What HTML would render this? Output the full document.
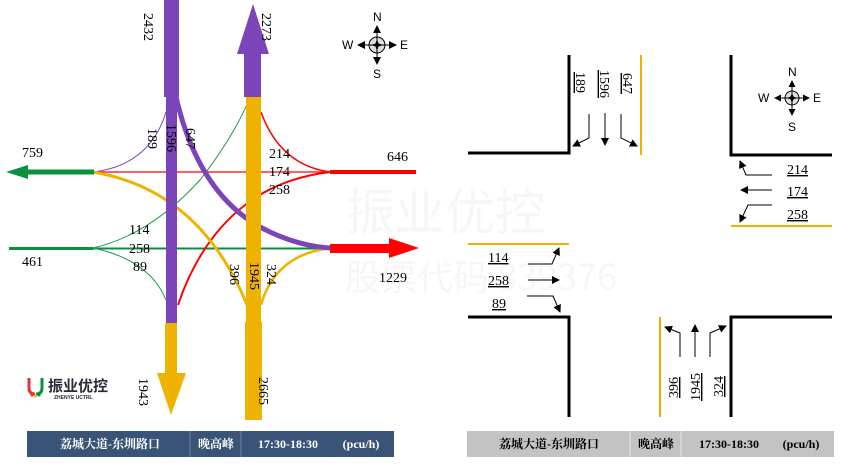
<!DOCTYPE html>
<html><head><meta charset="utf-8"><style>
html,body{margin:0;padding:0;background:#fff;}
svg{display:block;}
.n{font-family:"Liberation Serif","Noto Serif CJK SC",serif;font-size:14px;fill:#000;}
.c{font-family:"Liberation Sans",sans-serif;font-size:12px;fill:#000;}
.f{font-family:"Liberation Serif","Noto Serif CJK SC",serif;font-size:12px;font-weight:bold;}
</style></head><body>
<svg width="857" height="475" viewBox="0 0 857 475" xmlns="http://www.w3.org/2000/svg">
<defs>
<marker id="ah" markerWidth="8" markerHeight="8" refX="7" refY="4" orient="auto" markerUnits="userSpaceOnUse">
<path d="M0,0 L8,4 L0,8 Z" fill="#000"/></marker>
</defs>

<g opacity="0.03" font-family="Noto Sans CJK SC,sans-serif" font-size="50" fill="#000">
<text x="345" y="230">振业优控</text>
<text x="345" y="290" font-size="36">股票代码 839376</text>
</g>

<line x1="93" y1="172" x2="330" y2="172" stroke="#f00" stroke-width="1.2"/>
<line x1="93" y1="248.5" x2="330" y2="248.5" stroke="#0a8f3c" stroke-width="2"/>
<path d="M166,112 Q150,165 93,172" fill="none" stroke="#7b44b8" stroke-width="1"/>
<path d="M93,248 Q150,235 200,180 Q235,135 251,95" fill="none" stroke="#1a9a4a" stroke-width="1"/>
<path d="M93,248 Q150,260 166,300" fill="none" stroke="#1a9a4a" stroke-width="1"/>
<path d="M261,112 Q280,165 330,172" fill="none" stroke="#f00" stroke-width="1.5"/>
<path d="M330,172 Q280,178 245,205 Q200,240 178,305" fill="none" stroke="#f00" stroke-width="2"/>
<path d="M93,172 Q200,190 247,305" fill="none" stroke="#eeb200" stroke-width="3"/>
<path d="M261,305 Q275,255 330,248" fill="none" stroke="#eeb200" stroke-width="2.5"/>

<rect x="164" y="0" width="15" height="97" fill="#7b44b8"/>
<rect x="166" y="97" width="11" height="226" fill="#7b44b8"/>
<path d="M176,97 Q200,200 270,232 Q300,246 330,248" fill="none" stroke="#7b44b8" stroke-width="5"/>
<rect x="165" y="323" width="12" height="52" fill="#eeb200"/>
<polygon points="157,373 186,373 171,415" fill="#eeb200"/>

<rect x="246" y="97" width="15" height="226" fill="#eeb200"/>
<rect x="245" y="322" width="17" height="98" fill="#eeb200"/>
<rect x="244" y="52" width="17" height="45" fill="#7b44b8"/>
<polygon points="237,54 269,54 253,4" fill="#7b44b8"/>

<rect x="26" y="169.5" width="68" height="5" fill="#0a8f3c"/>
<polygon points="6,172 28,165 28,179" fill="#0a8f3c"/>
<rect x="9" y="247" width="84" height="3" fill="#0a8f3c"/>
<rect x="330" y="170" width="86" height="4" fill="#f00"/>
<rect x="330" y="244" width="61" height="9" fill="#f00"/>
<polygon points="389,238 389,258 419,248" fill="#f00"/>

<g class="n">
<text x="22" y="157">759</text>
<text x="387" y="161">646</text>
<text x="269" y="158">214</text>
<text x="269" y="176">174</text>
<text x="269" y="194">258</text>
<text x="129" y="234">114</text>
<text x="129" y="253">258</text>
<text x="133" y="271">89</text>
<text x="22" y="266">461</text>
<text x="379" y="282">1229</text>
<text transform="translate(144,13) rotate(90)">2432</text>
<text transform="translate(262,13) rotate(90)">2273</text>
<text transform="translate(148,128) rotate(90)">189</text>
<text transform="translate(167,124) rotate(90)">1596</text>
<text transform="translate(186,128) rotate(90)">647</text>
<text transform="translate(230,264) rotate(90)">396</text>
<text transform="translate(250,262) rotate(90)">1945</text>
<text transform="translate(267,264) rotate(90)">324</text>
<text transform="translate(139,378) rotate(90)">1943</text>
<text transform="translate(259,377) rotate(90)">2665</text>
</g>

<g transform="translate(377,45)">
<circle r="8" fill="#ddd" stroke="#000" stroke-width="1"/>
<line x1="-19" y1="0" x2="19" y2="0" stroke="#000" stroke-width="1"/>
<line x1="0" y1="-19" x2="0" y2="19" stroke="#000" stroke-width="1"/>
<polygon points="0,-20 -4,-12 4,-12" fill="#000"/>
<polygon points="0,20 -4,12 4,12" fill="#000"/>
<polygon points="-20,0 -12,-4 -12,4" fill="#000"/>
<polygon points="20,0 12,-4 12,4" fill="#000"/>
<polygon points="0,-6 2,0 0,6 -2,0" fill="#000"/>
<polygon points="-6,0 0,-2 6,0 0,2" fill="#000"/>
<text class="c" x="-4" y="-24">N</text>
<text class="c" x="-4" y="33">S</text>
<text class="c" x="-35" y="4">W</text>
<text class="c" x="23" y="4">E</text>
</g>

<path d="M29,378 L29,388 Q29,394 35,394" fill="none" stroke="#e8322c" stroke-width="3"/>
<path d="M42,378 L42,388 Q42,394 36,394" fill="none" stroke="#0a8f3c" stroke-width="3"/>
<circle cx="32" cy="395" r="1.5" fill="#e8322c"/><circle cx="35.5" cy="396" r="1.5" fill="#f5b400"/><circle cx="39" cy="395" r="1.5" fill="#0a8f3c"/>
<text x="48" y="391" font-family="Noto Sans CJK SC,sans-serif" font-size="15" font-weight="bold" fill="#2a2a3a">振业优控</text>
<text x="54" y="399" font-family="Liberation Sans,sans-serif" font-size="5" font-weight="bold" fill="#2a2a3a">ZHENYE UCTRL</text>

<rect x="27" y="431" width="367" height="26" fill="#3a5478"/>
<line x1="190" y1="431" x2="190" y2="457" stroke="#6f86a5" stroke-width="1"/>
<line x1="241" y1="431" x2="241" y2="457" stroke="#6f86a5" stroke-width="1"/>
<g class="f" fill="#fff" text-anchor="middle">
<text x="110" y="448">荔城大道-东圳路口</text>
<text x="216" y="448">晚高峰</text>
<text x="288" y="448">17:30-18:30</text>
<text x="361" y="448">(pcu/h)</text>
</g>

<g fill="none" stroke="#000" stroke-width="3">
<path d="M468,153 L569,153 L569,55"/>
<path d="M731,55 L731,155 L832,155"/>
<path d="M468,317 L569,317 L569,417"/>
<path d="M731,417 L731,317 L832,317"/>
</g>
<g stroke="#eeb200" stroke-width="2">
<line x1="641" y1="55" x2="641" y2="155"/>
<line x1="731" y1="226" x2="832" y2="226"/>
<line x1="468" y1="244" x2="569" y2="244"/>
<line x1="660" y1="317" x2="660" y2="417"/>
</g>
<g fill="none" stroke="#000" stroke-width="1" marker-end="url(#ah)">
<path d="M589,114 L589,138 L573,146"/>
<path d="M605,113 L605,145"/>
<path d="M621,114 L621,138 L637,146"/>
<path d="M772,175 L746,175 L740,161"/>
<path d="M772,190 L741,190"/>
<path d="M772,205 L748,205 L740,222"/>
<path d="M528,264 L552,264 L559,248"/>
<path d="M528,280 L559,280"/>
<path d="M527,296 L553,296 L560,312"/>
<path d="M680,357 L680,333 L665,327"/>
<path d="M695,357 L695,325"/>
<path d="M710,357 L710,333 L726,326"/>
</g>
<g class="n" text-decoration="underline">
<text x="787" y="174">214</text>
<text x="787" y="196">174</text>
<text x="787" y="219">258</text>
<text x="488" y="262">114</text>
<text x="488" y="285">258</text>
<text x="492" y="308">89</text>
<text transform="translate(576,72) rotate(90)">189</text>
<text transform="translate(600,70) rotate(90)">1596</text>
<text transform="translate(623,73) rotate(90)">647</text>
<text transform="translate(678,398) rotate(-90)">396</text>
<text transform="translate(700,401) rotate(-90)">1945</text>
<text transform="translate(723,397) rotate(-90)">324</text>
</g>

<g transform="translate(792,98)">
<circle r="7" fill="#ddd" stroke="#000" stroke-width="1"/>
<line x1="-17" y1="0" x2="17" y2="0" stroke="#000" stroke-width="1"/>
<line x1="0" y1="-17" x2="0" y2="17" stroke="#000" stroke-width="1"/>
<polygon points="0,-18 -3.5,-11 3.5,-11" fill="#000"/>
<polygon points="0,18 -3.5,11 3.5,11" fill="#000"/>
<polygon points="-18,0 -11,-3.5 -11,3.5" fill="#000"/>
<polygon points="18,0 11,-3.5 11,3.5" fill="#000"/>
<polygon points="0,-5 2,0 0,5 -2,0" fill="#000"/>
<polygon points="-5,0 0,-2 5,0 0,2" fill="#000"/>
<text class="c" x="-4" y="-22">N</text>
<text class="c" x="-4" y="33">S</text>
<text class="c" x="-34" y="4">W</text>
<text class="c" x="21" y="4">E</text>
</g>

<rect x="467" y="431" width="367" height="26" fill="#c3c3c3"/>
<line x1="630" y1="431" x2="630" y2="457" stroke="#e5e5e5" stroke-width="1"/>
<line x1="681" y1="431" x2="681" y2="457" stroke="#e5e5e5" stroke-width="1"/>
<g class="f" fill="#000" text-anchor="middle">
<text x="549" y="448">荔城大道-东圳路口</text>
<text x="656" y="448">晚高峰</text>
<text x="729" y="448">17:30-18:30</text>
<text x="801" y="448">(pcu/h)</text>
</g>
</svg>
</body></html>
